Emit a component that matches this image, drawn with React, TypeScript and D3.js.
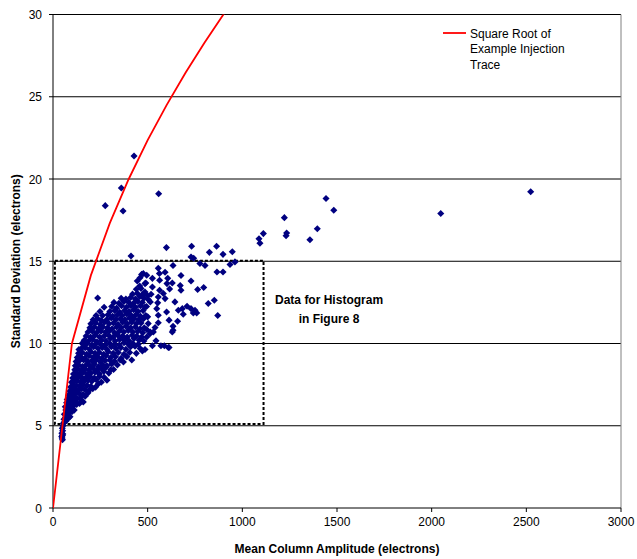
import React from 'react';
import * as d3 from 'd3';

// axis ticks
const xTicks = [0, 500, 1000, 1500, 2000, 2500, 3000];
const yTicks = [0, 5, 10, 15, 20, 25, 30];

// square root of the example injection trace (mean, sqrt)
const traceMean = [0, 100, 200, 300, 400, 500, 600, 700, 800, 900, 1000];
const traceSqrt = [0, 10, 14.14, 17.32, 20, 22.36, 24.49, 26.46, 28.28, 30, 31.62];

// region used for the histogram (mean range, std range)
const boxMean = [10, 1112];
const boxStd = [5.1, 15.03];

const legendText = ['Square Root of', 'Example Injection', 'Trace'];
const boxText = ['Data for Histogram', 'in Figure 8'];
const boxTextMean = 1458;
const boxTextStd = [12.39, 11.23];

// column points: [mean amplitude, std deviation]
const denseCore: [number, number][] = [
  [48, 4.25], [50, 4.4], [47, 4.55], [51, 4.7], [49, 4.85], [53, 5.0], [46, 4.35], [52, 4.5], [50, 4.15],
  [55, 5.15], [62, 5.25], [70, 5.3], [58, 5.4], [66, 5.5], [80, 5.45], [90, 5.55], [75, 5.6],
  [60, 5.7], [72, 5.75], [85, 5.8], [100, 5.85], [68, 5.95], [95, 6.0], [112, 5.95], [80, 6.05],
  [65, 6.15], [78, 6.2], [92, 6.25], [108, 6.2], [125, 6.3], [140, 6.35], [72, 6.4], [88, 6.45], [103, 6.5], [118, 6.45], [150, 6.5], [160, 6.45],
  [75, 6.6], [86, 6.65], [98, 6.7], [113, 6.75], [128, 6.65], [145, 6.7], [170, 6.8], [82, 6.85], [95, 6.9], [110, 6.95], [125, 7.0], [140, 6.95], [158, 6.9], [185, 7.0],
  [88, 7.1], [100, 7.15], [115, 7.2], [132, 7.15], [150, 7.25], [168, 7.2], [190, 7.15], [210, 7.25], [93, 7.35], [108, 7.4], [123, 7.45], [140, 7.4], [160, 7.5], [180, 7.45], [200, 7.4], [240, 7.55], [225, 7.35],
  [98, 7.65], [112, 7.7], [128, 7.75], [145, 7.65], [165, 7.7], [185, 7.75], [205, 7.7], [228, 7.8], [255, 7.65], [285, 7.77], [104, 7.9], [120, 7.95], [137, 8.0], [155, 7.9], [175, 7.95], [195, 8.0], [218, 7.9], [245, 8.0], [270, 7.95],
  [108, 8.15], [125, 8.2], [142, 8.1], [160, 8.25], [180, 8.15], [200, 8.2], [222, 8.25], [245, 8.15], [268, 8.3], [295, 8.2], [115, 8.4], [132, 8.45], [150, 8.35], [170, 8.45], [190, 8.4], [212, 8.5], [235, 8.4], [258, 8.45], [280, 8.55], [320, 8.42], [305, 8.4],
  [118, 8.65], [135, 8.7], [155, 8.6], [175, 8.7], [195, 8.65], [218, 8.75], [240, 8.6], [262, 8.7], [285, 8.65], [310, 8.75], [340, 8.7], [372, 8.88], [122, 8.9], [140, 8.95], [162, 9.0], [185, 8.9], [205, 8.95], [228, 9.0], [250, 8.9], [275, 8.95], [300, 9.0], [325, 8.92], [355, 9.0],
  [128, 9.15], [146, 9.2], [168, 9.1], [190, 9.25], [212, 9.15], [235, 9.2], [258, 9.1], [280, 9.25], [305, 9.15], [330, 9.2], [360, 9.1], [390, 9.2], [416, 9.0], [135, 9.4], [155, 9.45], [178, 9.35], [200, 9.5], [222, 9.4], [245, 9.45], [268, 9.35], [292, 9.5], [318, 9.4], [345, 9.45], [375, 9.35], [405, 9.45], [440, 9.4], [472, 9.55],
  [137, 9.64], [150, 9.7], [170, 9.75], [192, 9.65], [215, 9.8], [238, 9.7], [260, 9.75], [284, 9.65], [308, 9.8], [332, 9.7], [358, 9.75], [385, 9.65], [410, 9.8], [433, 9.84], [460, 9.7], [158, 9.95], [180, 10.0], [205, 9.9], [228, 10.0], [252, 9.95], [276, 9.9], [300, 10.0], [325, 9.95], [350, 9.9], [375, 10.05], [398, 9.95], [422, 10.0], [450, 9.95], [157, 10.04],
  [165, 10.2], [188, 10.15], [210, 10.25], [232, 10.1], [256, 10.2], [280, 10.15], [303, 10.3], [328, 10.15], [352, 10.25], [378, 10.2], [402, 10.15], [428, 10.3], [455, 10.2], [480, 10.15], [175, 10.45], [198, 10.4], [222, 10.5], [246, 10.4], [270, 10.45], [294, 10.5], [318, 10.4], [342, 10.5], [368, 10.45], [392, 10.4], [418, 10.5], [442, 10.45], [468, 10.4],
  [185, 10.7], [208, 10.75], [230, 10.65], [254, 10.75], [278, 10.7], [300, 10.8], [325, 10.65], [350, 10.75], [374, 10.7], [398, 10.8], [422, 10.7], [448, 10.75], [474, 10.65], [195, 10.95], [218, 11.0], [240, 10.9], [264, 11.0], [288, 10.95], [312, 10.9], [336, 11.0], [360, 10.95], [385, 11.05], [410, 10.95], [435, 11.0], [460, 10.9], [482, 10.95],
  [200, 11.2], [225, 11.25], [250, 11.15], [254, 11.41], [272, 11.3], [296, 11.2], [320, 11.25], [344, 11.15], [368, 11.3], [392, 11.2], [416, 11.3], [440, 11.2], [465, 11.25], [212, 11.45], [236, 11.5], [284, 11.45], [308, 11.55], [332, 11.45], [356, 11.5], [380, 11.45], [404, 11.55], [428, 11.5], [452, 11.45], [478, 11.5],
  [228, 11.7], [262, 11.7], [290, 11.75], [315, 11.65], [340, 11.75], [365, 11.7], [390, 11.8], [414, 11.7], [438, 11.75], [462, 11.65], [490, 11.7], [248, 11.95], [300, 11.95], [326, 12.0], [352, 11.9], [378, 12.0], [402, 11.95], [426, 12.05], [450, 11.95], [476, 12.0],
  [270, 12.2], [310, 12.25], [336, 12.15], [362, 12.3], [388, 12.2], [412, 12.3], [436, 12.2], [462, 12.3], [494, 12.25], [236, 12.77], [322, 12.5], [348, 12.45], [375, 12.55], [400, 12.5], [425, 12.45], [448, 12.55], [472, 12.5],
  [360, 12.75], [385, 12.7], [410, 12.8], [435, 12.7], [458, 12.85], [480, 12.75], [420, 13.0], [445, 13.05], [470, 12.95], [500, 12.9],
  [440, 13.3], [465, 13.34], [482, 13.07], [490, 13.68], [458, 13.5], [477, 14.25], [460, 14.0], [445, 13.8], [468, 14.2], [412, 15.32],
];

const sparseUpper: [number, number][] = [
  [599, 15.83], [732, 15.91], [864, 15.91], [826, 15.54], [898, 15.42], [947, 15.58], [729, 15.26], [743, 15.18],
  [776, 14.86], [803, 14.74], [935, 14.8], [961, 14.96], [634, 14.74], [556, 14.57], [866, 14.35], [898, 14.35],
  [562, 14.25], [592, 14.33], [495, 14.15], [676, 14.13], [525, 13.96], [563, 13.84], [606, 13.96], [486, 13.64],
  [602, 13.64], [630, 13.68], [729, 13.8], [672, 13.52], [525, 13.44], [563, 13.24], [616, 13.32], [764, 13.28],
  [796, 13.4], [676, 13.24], [486, 13.13], [518, 12.99], [583, 13.04], [556, 12.83], [503, 12.67], [592, 12.73],
  [514, 12.53], [644, 12.53], [553, 12.47], [820, 12.43], [852, 12.63], [708, 12.26], [683, 12.12], [662, 12.02],
  [729, 12.12], [750, 12.02], [741, 11.86], [486, 12.22], [548, 12.12], [600, 11.92], [688, 11.78], [759, 11.86],
  [870, 11.7], [556, 11.72], [500, 11.62], [613, 11.42], [556, 11.26], [658, 11.35], [503, 11.21], [634, 11.05],
  [539, 10.97], [495, 10.85], [634, 10.81], [514, 10.7], [630, 10.7], [544, 10.16], [525, 9.86], [570, 9.86],
  [613, 9.76], [486, 9.64], [495, 10.4], [512, 10.6], [530, 10.7], [609, 9.76], [588, 9.86],
];

const outliers: [number, number][] = [
  [428, 21.4], [361, 19.45], [276, 18.38], [370, 18.05], [558, 19.1], [2523, 19.23], [2048, 17.9],
  [1442, 18.82], [1483, 18.1], [1222, 17.65], [1111, 16.68], [1088, 16.37], [1093, 16.1],
  [1234, 16.72], [1231, 16.55], [1396, 16.98], [1357, 16.31],
];

const W = 637;
const H = 559;
const margin = { left: 53, right: 16, top: 14.5, bottom: 51 };
const font = 'Arial, "Liberation Sans", sans-serif';

export default function App() {
  const x = d3.scaleLinear().domain([0, 3000]).range([margin.left, W - margin.right]);
  const y = d3.scaleLinear().domain([0, 30]).range([H - margin.bottom, margin.top]);

  const tracePts = traceMean.map((m, i) => [m, traceSqrt[i]] as [number, number]);
  const line = d3.line<[number, number]>().x(d => x(d[0])).y(d => y(d[1]));
  const diamond = d3.symbol(d3.symbolSquare, 25)();
  const allPts = [...denseCore, ...sparseUpper, ...outliers];

  const [x0, x1] = x.range();
  const [yb, yt] = y.range();

  return (
    <svg width={W} height={H} style={{ position: 'absolute', left: 0, top: 0, display: 'block' }} fontFamily={font}>
      <defs>
        <clipPath id="plot">
          <rect x={x0} y={yt} width={x1 - x0} height={yb - yt} />
        </clipPath>
      </defs>
      <rect width={W} height={H} fill="#fff" />
      {yTicks.map(t => (
        <g key={t}>
          {t > 0 && <line x1={x0} x2={x1} y1={y(t)} y2={y(t)} stroke="#000" strokeWidth={1} />}
          <line x1={x0 - 4} x2={x0} y1={y(t)} y2={y(t)} stroke="#000" />
          <text x={x0 - 11} y={y(t) + 4.5} textAnchor="end" fontSize={12}>{t}</text>
        </g>
      ))}
      <line x1={x1} x2={x1} y1={yt} y2={yb} stroke="#808080" />
      {xTicks.map(t => (
        <g key={t}>
          <line x1={x(t)} x2={x(t)} y1={yb} y2={yb + 4} stroke="#000" />
          <text x={x(t)} y={yb + 18} textAnchor="middle" fontSize={12}>{t}</text>
        </g>
      ))}
      <line x1={x0} x2={x1} y1={yb} y2={yb} stroke="#000" />
      <line x1={x0} x2={x0} y1={yt} y2={yb} stroke="#000" />

      <rect
        x={x(boxMean[0])}
        y={y(boxStd[1])}
        width={x(boxMean[1]) - x(boxMean[0])}
        height={y(boxStd[0]) - y(boxStd[1])}
        fill="none"
        stroke="#000"
        strokeWidth={2}
        strokeDasharray="3,2"
      />
      {boxText.map((s, i) => (
        <text key={s} x={x(boxTextMean)} y={y(boxTextStd[i])} textAnchor="middle" fontSize={12} fontWeight="bold">{s}</text>
      ))}

      <g>
        {allPts.map((p, i) => (
          <path key={i} d={diamond} transform={`translate(${x(p[0])},${y(p[1])}) rotate(45)`} fill="#000080" />
        ))}
      </g>

      <path d={line(tracePts) || ''} fill="none" stroke="#ff0000" strokeWidth={1.8} clipPath="url(#plot)" />

      <line x1={443} x2={466} y1={33} y2={33} stroke="#ff0000" strokeWidth={1.8} />
      {legendText.map((s, i) => (
        <text key={s} x={470} y={37.5 + i * 15.5} fontSize={12}>{s}</text>
      ))}

      <text x={(x0 + x1) / 2} y={553} textAnchor="middle" fontSize={12} fontWeight="bold">
        Mean Column Amplitude (electrons)
      </text>
      <text transform={`translate(20,${(yt + yb) / 2}) rotate(-90)`} textAnchor="middle" fontSize={12} fontWeight="bold">
        Standard Deviation (electrons)
      </text>
    </svg>
  );
}
